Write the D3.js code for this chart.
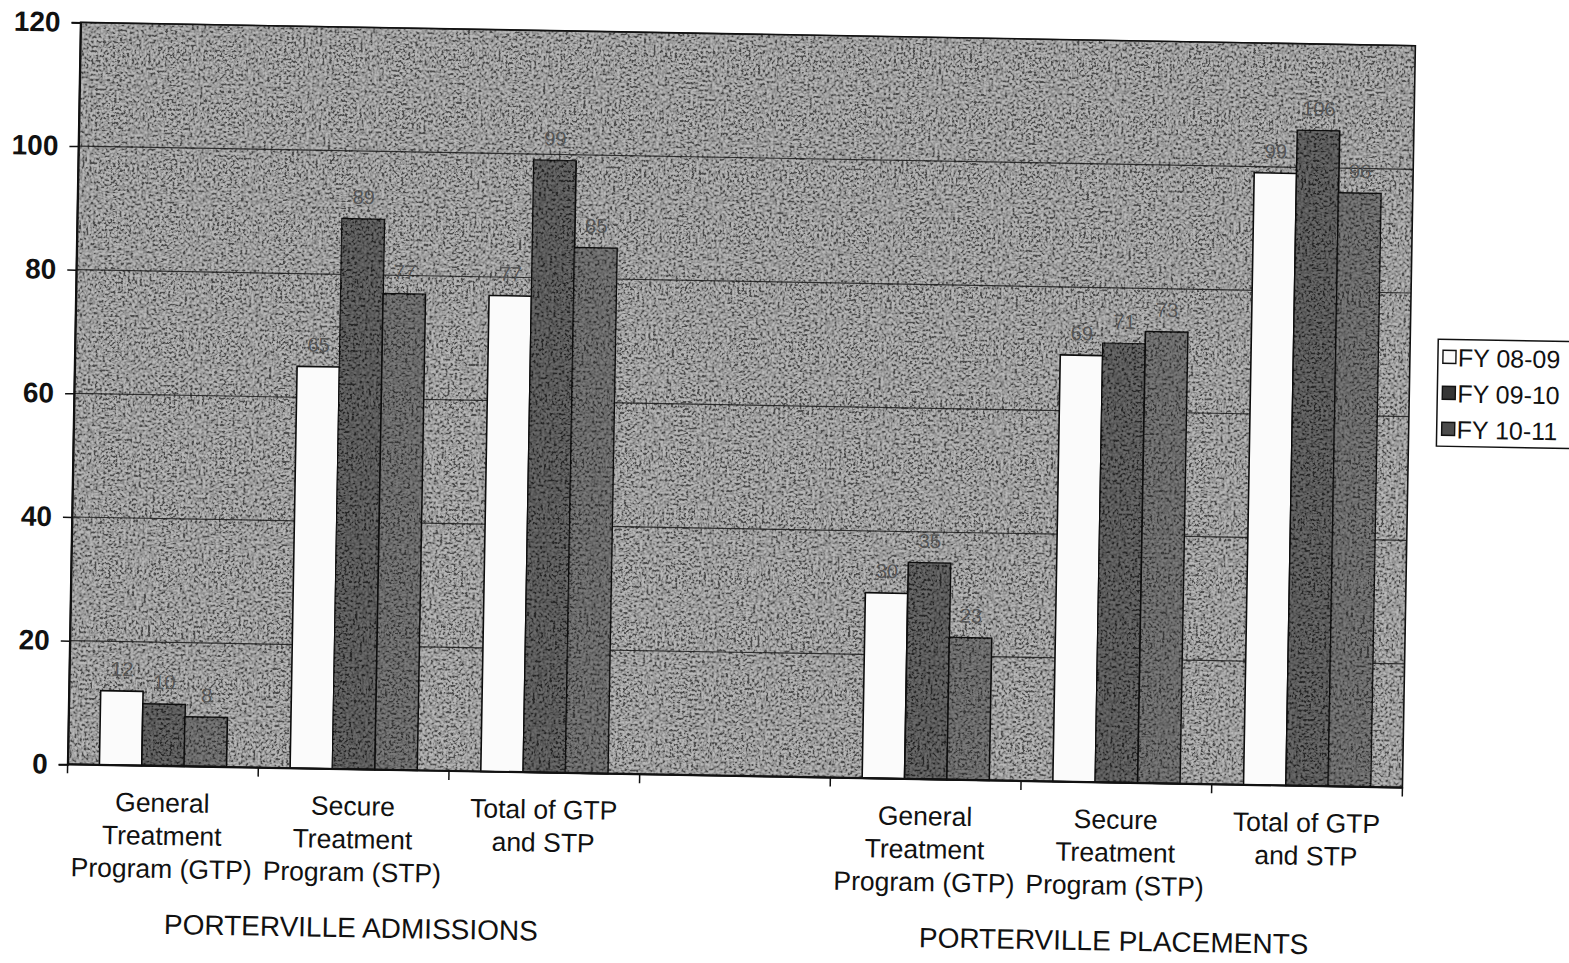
<!DOCTYPE html>
<html>
<head>
<meta charset="utf-8">
<script src="https://cdn.jsdelivr.net/npm/d3@7/dist/d3.min.js"></script>
<style>
  html, body { margin: 0; padding: 0; background: #ffffff; }
  svg { display: block; }
  text { font-family: "Liberation Sans", Arial, sans-serif; fill: #111; }
</style>
</head>
<body>
<svg id="chart" width="1569" height="963"></svg>
<script>
// ---- data -------------------------------------------------------------
const series = ["FY 08-09", "FY 09-10", "FY 10-11"];
// seven category slots: three admissions, one empty spacer, three placements
const slots = ["admGTP", "admSTP", "admTotal", "spacer", "plcGTP", "plcSTP", "plcTotal"];
const fy0809 = [12, 65, 77, null, 30, 69, 99];
const fy0910 = [10, 89, 99, null, 35, 71, 106];
const fy1011 = [8, 77, 85, null, 23, 73, 96];
const categoryLines = [
  ["General", "Treatment", "Program (GTP)"],
  ["Secure", "Treatment", "Program (STP)"],
  ["Total of GTP", "and STP"],
  [],
  ["General", "Treatment", "Program (GTP)"],
  ["Secure", "Treatment", "Program (STP)"],
  ["Total of GTP", "and STP"]
];
const groupLabels = ["PORTERVILLE ADMISSIONS", "PORTERVILLE PLACEMENTS"];
const groupSpans = [[0, 2], [4, 6]];
const yTicks = [0, 20, 40, 60, 80, 100, 120];
const seriesValues = [fy0809, fy0910, fy1011];

// ---- layout -----------------------------------------------------------
const plot = { left: 74, top: 34, width: 1335, height: 742 };
const tilt = 1.0;                       // the sheet sits slightly askew
const pivot = [742, 405];
const seriesFill = ["#fbfbfb", "#363636", "#4c4c4c"];
const plotFill = "#848484";

const svg = d3.select("#chart");
const defs = svg.append("defs");

// speckled grain used on the grey fills
const grain = defs.append("filter").attr("id", "grain")
  .attr("x", 0).attr("y", 0).attr("width", 1).attr("height", 1)
  .attr("filterUnits", "objectBoundingBox");
grain.append("feTurbulence").attr("type", "fractalNoise")
  .attr("baseFrequency", 0.42).attr("numOctaves", 2).attr("seed", 11).attr("result", "n");
grain.append("feColorMatrix").attr("in", "n").attr("type", "matrix")
  .attr("values", "1 0 0 0 0  1 0 0 0 0  1 0 0 0 0  0 0 0 0 1").attr("result", "g");
const ct = grain.append("feComponentTransfer").attr("in", "g");
["feFuncR", "feFuncG", "feFuncB"].forEach(f =>
  ct.append(f).attr("type", "linear").attr("slope", 3.6).attr("intercept", -1.3));

const root = svg.append("g")
  .attr("transform", `rotate(${tilt},${pivot[0]},${pivot[1]})`);

const x0 = d3.scaleBand().domain(slots)
  .range([plot.left, plot.left + plot.width]).paddingInner(0).paddingOuter(0);
const x1 = d3.scaleBand().domain(series)
  .range([0, x0.bandwidth()]).paddingInner(0).paddingOuter(0.75);
const y = d3.scaleLinear().domain([0, 120])
  .range([plot.top + plot.height, plot.top]);

// plot area
root.append("rect")
  .attr("x", plot.left).attr("y", plot.top)
  .attr("width", plot.width).attr("height", plot.height)
  .attr("fill", plotFill);
root.append("rect")
  .attr("x", plot.left).attr("y", plot.top)
  .attr("width", plot.width).attr("height", plot.height)
  .attr("fill", "#fff").attr("filter", "url(#grain)").attr("opacity", 0.42);

// horizontal gridlines
root.append("g").selectAll("line").data(yTicks.filter(t => t > 0)).join("line")
  .attr("x1", plot.left).attr("x2", plot.left + plot.width)
  .attr("y1", d => y(d)).attr("y2", d => y(d))
  .attr("stroke", "#1a1a1a").attr("stroke-width", 1.2).attr("opacity", 0.85);

// bars and value labels, one series at a time
series.forEach((s, si) => {
  const rows = slots.map((k, i) => ({ k, v: seriesValues[si][i] })).filter(d => d.v != null);
  const g = root.append("g");
  g.selectAll("rect.bar").data(rows).join("rect").attr("class", "bar")
    .attr("x", d => x0(d.k) + x1(s)).attr("y", d => y(d.v))
    .attr("width", x1.bandwidth()).attr("height", d => y(0) - y(d.v))
    .attr("fill", seriesFill[si]).attr("stroke", "#0d0d0d").attr("stroke-width", 1.6);
  if (si > 0) {
    g.selectAll("rect.grain").data(rows).join("rect").attr("class", "grain")
      .attr("x", d => x0(d.k) + x1(s) + 1).attr("y", d => y(d.v) + 1)
      .attr("width", x1.bandwidth() - 2).attr("height", d => y(0) - y(d.v) - 2)
      .attr("fill", "#fff").attr("filter", "url(#grain)").attr("opacity", 0.26);
  }
  g.selectAll("text").data(rows).join("text")
    .attr("x", d => x0(d.k) + x1(s) + x1.bandwidth() / 2)
    .attr("y", d => y(d.v) - 15)
    .attr("text-anchor", "middle")
    .style("font-size", "20px").style("fill", "#555")
    .text(d => d.v);
});

// plot frame
root.append("rect")
  .attr("x", plot.left).attr("y", plot.top)
  .attr("width", plot.width).attr("height", plot.height)
  .attr("fill", "none").attr("stroke", "#111").attr("stroke-width", 1.6);

// value axis
const yAxis = root.append("g")
  .attr("transform", `translate(${plot.left},0)`)
  .call(d3.axisLeft(y).tickValues(yTicks).tickSize(9).tickPadding(11));
yAxis.select(".domain").attr("stroke", "#111").attr("stroke-width", 2);
yAxis.selectAll(".tick line").attr("stroke", "#111").attr("stroke-width", 1.5);
yAxis.selectAll(".tick text")
  .style("font-family", '"Liberation Sans", Arial, sans-serif')
  .style("font-size", "28px").style("font-weight", "bold").style("fill", "#111");

// category axis: ticks between slots
const boundaries = slots.map(k => x0(k)).concat([plot.left + plot.width]);
root.append("g").selectAll("line").data(boundaries).join("line")
  .attr("x1", d => d).attr("x2", d => d)
  .attr("y1", y(0)).attr("y2", y(0) + 9)
  .attr("stroke", "#111").attr("stroke-width", 1.5);
root.append("line")
  .attr("x1", plot.left).attr("x2", plot.left + plot.width)
  .attr("y1", y(0)).attr("y2", y(0))
  .attr("stroke", "#111").attr("stroke-width", 2.2);

// category labels
const catG = root.append("g");
slots.forEach((k, i) => {
  const t = catG.append("text")
    .attr("x", x0(k) + x0.bandwidth() / 2)
    .attr("y", y(0) + 46)
    .attr("text-anchor", "middle")
    .style("font-size", "26.5px");
  categoryLines[i].forEach((line, li) => {
    t.append("tspan").attr("x", x0(k) + x0.bandwidth() / 2)
      .attr("dy", li === 0 ? 0 : 33).text(line);
  });
});

// group labels
groupLabels.forEach((lbl, gi) => {
  const [a, b] = groupSpans[gi];
  const cx = (x0(slots[a]) + x0(slots[b]) + x0.bandwidth()) / 2;
  root.append("text")
    .attr("x", cx).attr("y", y(0) + 168)
    .attr("text-anchor", "middle")
    .style("font-size", "28px")
    .text(lbl);
});

// legend
const legend = root.append("g").attr("transform", "translate(1437,327)");
legend.append("rect").attr("width", 150).attr("height", 107)
  .attr("fill", "#fff").attr("stroke", "#111").attr("stroke-width", 1.5);
series.forEach((s, si) => {
  const row = legend.append("g").attr("transform", `translate(5,${18 + si * 36})`);
  row.append("rect").attr("x", 0).attr("y", -7).attr("width", 13).attr("height", 13)
    .attr("fill", seriesFill[si]).attr("stroke", "#111").attr("stroke-width", 1.4);
  row.append("text").attr("x", 15).attr("y", 9)
    .style("font-size", "25px").text(s);
});
</script>
</body>
</html>
